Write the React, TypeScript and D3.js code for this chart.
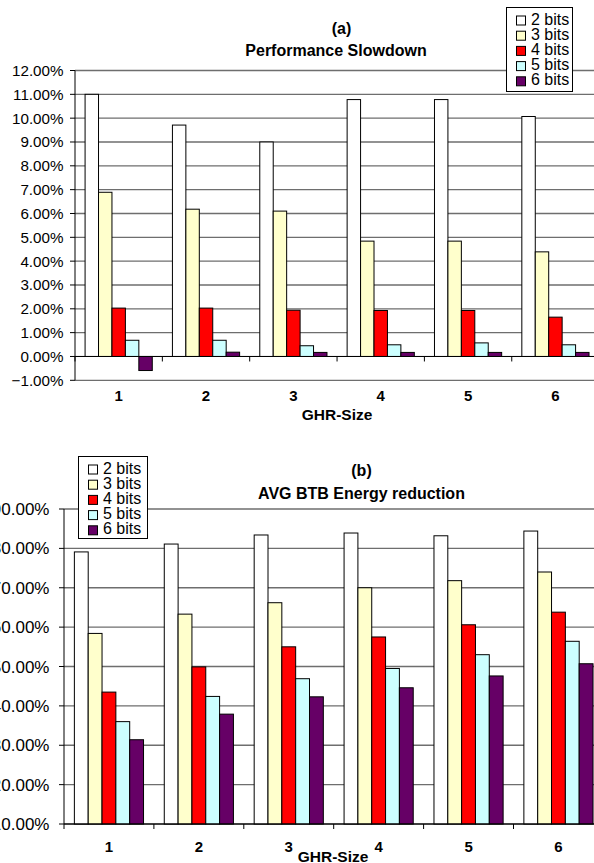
import React from "react";
import * as d3 from "d3";

const categories = ["1", "2", "3", "4", "5", "6"];
const seriesNames = ["2 bits", "3 bits", "4 bits", "5 bits", "6 bits"];
const seriesColors = ["#FFFFFF", "#FFFFCC", "#FF0000", "#CCFFFF", "#660066"];

// (a) Performance Slowdown, percent
const slow2 = [11.0, 9.71, 9.0, 10.78, 10.78, 10.07];
const slow3 = [6.89, 6.18, 6.1, 4.84, 4.84, 4.39];
const slow4 = [2.03, 2.03, 1.94, 1.93, 1.93, 1.65];
const slow5 = [0.68, 0.68, 0.45, 0.49, 0.57, 0.49];
const slow6 = [-0.59, 0.18, 0.17, 0.17, 0.17, 0.17];

// (b) AVG BTB Energy reduction, percent
const energy2 = [79.1, 81.1, 83.4, 83.9, 83.2, 84.4];
const energy3 = [58.4, 63.3, 66.2, 70.0, 71.8, 74.0];
const energy4 = [43.5, 49.9, 55.0, 57.5, 60.6, 63.8];
const energy5 = [36.0, 42.4, 46.9, 49.5, 53.0, 56.4];
const energy6 = [31.4, 37.9, 42.3, 44.6, 47.6, 50.7];

const slowTicks = [-1, 0, 1, 2, 3, 4, 5, 6, 7, 8, 9, 10, 11, 12];
const energyTicks = [10, 20, 30, 40, 50, 60, 70, 80, 90];

const FONT = "'Liberation Sans', Arial, Helvetica, sans-serif";
const fmt = (v: number) => d3.format(".2f")(v) + "%";

type ChartProps = {
  series: number[][];
  ticks: number[];
  base: number;
  left: number;
  catWidth: number;
  top: number;
  bottom: number;
  tickLabelX: number;
  tickFont: number;
  label: string;
  title: string;
  labelX: number;
  labelY: number;
  titleY: number;
  titleX: number;
  catLabelY: number;
  axisTitleY: number;
  axisTitleX: number;
  legendX: number;
  legendY: number;
  legendW: number;
  legendH: number;
};

function Chart(p: ChartProps) {
  const yMin = d3.min(p.ticks) as number;
  const yMax = d3.max(p.ticks) as number;
  const y = d3.scaleLinear().domain([yMin, yMax]).range([p.bottom, p.top]);
  const right = p.left + p.catWidth * categories.length;
  const x0 = d3.scaleBand<string>().domain(categories).range([p.left, right]).padding(0);
  const x1 = d3
    .scaleBand<string>()
    .domain(seriesNames)
    .range([0, x0.bandwidth()])
    .paddingInner(0)
    .paddingOuter(0.75);
  const baseY = y(p.base);
  return (
    <g>
      {p.ticks.map((t) => (
        <line
          key={"g" + t}
          x1={p.left}
          x2={right}
          y1={y(t)}
          y2={y(t)}
          stroke={t === p.base ? "#000" : "#6e6e6e"}
          strokeWidth={t === p.base ? 1 : 1.3}
        />
      ))}
      {p.ticks.map((t) => (
        <g key={"t" + t}>
          <line x1={p.left - 5} x2={p.left} y1={y(t)} y2={y(t)} stroke="#000" />
          <text
            x={p.tickLabelX}
            y={y(t) + p.tickFont * 0.36}
            textAnchor="end"
            fontSize={p.tickFont}
            fontFamily={FONT}
            fill="#000"
          >
            {fmt(t)}
          </text>
        </g>
      ))}
      {p.series.map((vals, si) =>
        vals.map((v, ci) => {
          const yv = y(v);
          return (
            <rect
              key={"b" + si + "-" + ci}
              x={(x0(categories[ci]) as number) + (x1(seriesNames[si]) as number)}
              y={Math.min(yv, baseY)}
              width={x1.bandwidth()}
              height={Math.abs(yv - baseY)}
              fill={seriesColors[si]}
              stroke="#000"
              strokeWidth={1}
            />
          );
        })
      )}
      <line x1={p.left} x2={p.left} y1={p.top} y2={p.bottom} stroke="#000" />
      <line x1={p.left} x2={right} y1={baseY} y2={baseY} stroke="#000" />
      {categories.map((c, i) => (
        <line
          key={"ct" + c}
          x1={p.left + p.catWidth * i}
          x2={p.left + p.catWidth * i}
          y1={baseY}
          y2={baseY + 5}
          stroke="#000"
        />
      ))}
      {categories.map((c) => (
        <text
          key={"cl" + c}
          x={(x0(c) as number) + x0.bandwidth() / 2}
          y={p.catLabelY}
          textAnchor="middle"
          fontSize={15}
          fontWeight="bold"
          fontFamily={FONT}
        >
          {c}
        </text>
      ))}
      <text
        x={p.axisTitleX}
        y={p.axisTitleY}
        textAnchor="middle"
        fontSize={15.5}
        fontWeight="bold"
        fontFamily={FONT}
      >
        GHR-Size
      </text>
      <text x={p.labelX} y={p.labelY} textAnchor="middle" fontSize={16} fontWeight="bold" fontFamily={FONT}>
        {p.label}
      </text>
      <text x={p.titleX} y={p.titleY} textAnchor="middle" fontSize={16} fontWeight="bold" fontFamily={FONT}>
        {p.title}
      </text>
      <rect
        x={p.legendX}
        y={p.legendY}
        width={p.legendW}
        height={p.legendH}
        fill="#fff"
        stroke="#000"
        strokeWidth={1}
      />
      {seriesNames.map((s, i) => (
        <g key={"l" + s}>
          <rect
            x={p.legendX + 10}
            y={p.legendY + 8.5 + i * 15.2}
            width={9}
            height={9}
            fill={seriesColors[i]}
            stroke="#000"
          />
          <text
            x={p.legendX + 24.5}
            y={p.legendY + 17 + i * 15.2}
            fontSize={16}
            fontFamily={FONT}
          >
            {s}
          </text>
        </g>
      ))}
    </g>
  );
}

export default function App() {
  return (
    <svg
      width={594}
      height={863}
      style={{ position: "absolute", left: 0, top: 0, background: "#fff" }}
    >
      <rect x={0} y={0} width={594} height={863} fill="#fff" />
      <Chart
        series={[slow2, slow3, slow4, slow5, slow6]}
        ticks={slowTicks}
        base={0}
        left={75}
        catWidth={87.35}
        top={70.5}
        bottom={380.3}
        tickLabelX={63.5}
        tickFont={15.2}
        label="(a)"
        title="Performance Slowdown"
        labelX={341.5}
        labelY={33.5}
        titleY={56}
        titleX={336}
        catLabelY={401}
        axisTitleY={419.5}
        axisTitleX={337}
        legendX={506.5}
        legendY={7.5}
        legendW={66}
        legendH={84}
      />
      <Chart
        series={[energy2, energy3, energy4, energy5, energy6]}
        ticks={energyTicks}
        base={10}
        left={64}
        catWidth={89.9}
        top={509}
        bottom={824}
        tickLabelX={49.5}
        tickFont={17}
        label="(b)"
        title="AVG BTB Energy reduction"
        labelX={361.5}
        labelY={476}
        titleY={499}
        titleX={361.5}
        catLabelY={852}
        axisTitleY={862}
        axisTitleX={333}
        legendX={78.5}
        legendY={456.5}
        legendW={69}
        legendH={82}
      />
    </svg>
  );
}
